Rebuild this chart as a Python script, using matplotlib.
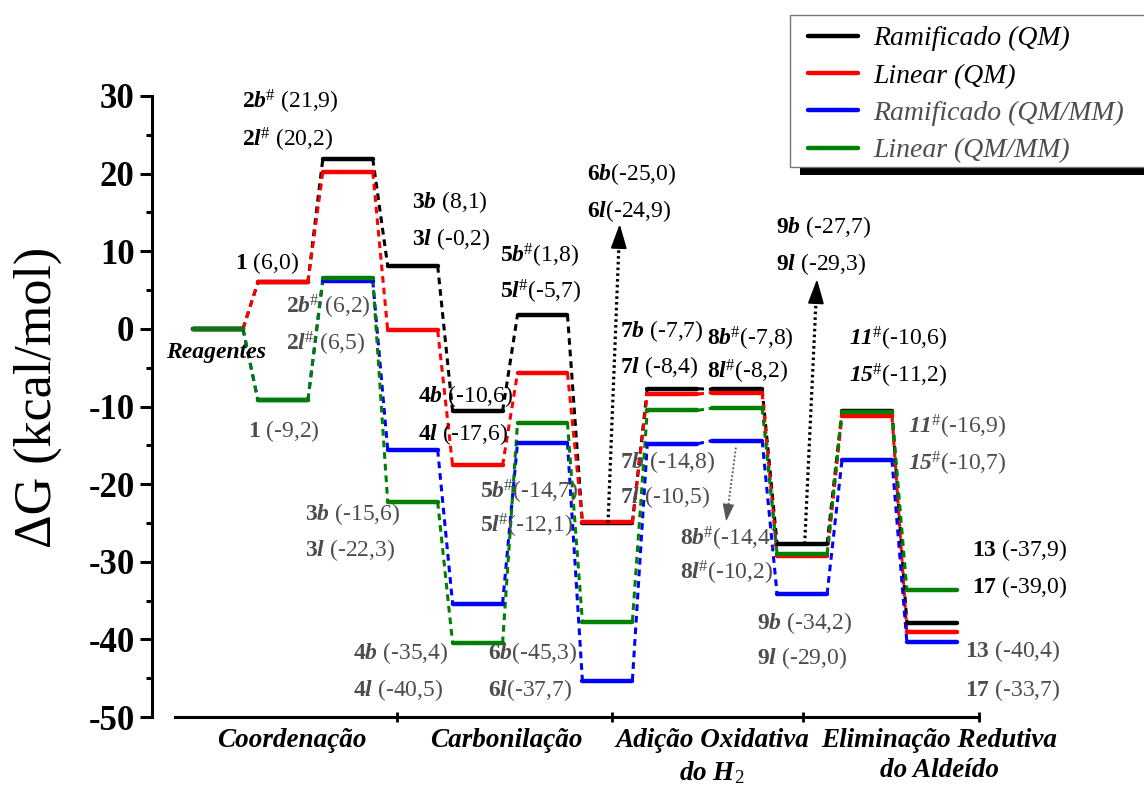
import numpy as np
import matplotlib
matplotlib.use('Agg')
import matplotlib.pyplot as plt
from matplotlib.lines import Line2D
from matplotlib.patches import Rectangle

plt.rcParams.update({
    'font.family': 'Liberation Serif',
    'mathtext.fontset': 'custom',
    'mathtext.rm': 'Liberation Serif',
    'mathtext.it': 'Liberation Serif:italic',
    'mathtext.bf': 'Liberation Serif:bold',
    'mathtext.bfit': 'Liberation Serif:bold:italic',
    'axes.unicode_minus': False,
})

# ---------------------------------------------------------------- data
stages = ['Reagentes', '1', '2', '3', '4', '5', '6', '7', '8', '9', '11/15', '13/17']
ram_qm = [0.0, 6.0, 21.9, 8.1, -10.6, 1.8, -25.0, -7.7, -7.8, -27.7, -10.6, -37.9]
lin_qm = [0.0, 6.0, 20.2, -0.2, -17.6, -5.7, -24.9, -8.4, -8.2, -29.3, -11.2, -39.0]
ram_qmmm = [0.0, -9.2, 6.2, -15.6, -35.4, -14.7, -45.3, -14.8, -14.4, -34.2, -16.9, -40.4]
lin_qmmm = [0.0, -9.2, 6.5, -22.3, -40.5, -12.1, -37.7, -10.5, -10.2, -29.0, -10.7, -33.7]
series_names = ['Ramificado (QM)', 'Linear (QM)', 'Ramificado (QM/MM)', 'Linear (QM/MM)']
phases = ['Coordenação', 'Carbonilação', 'Adição Oxidativa\ndo H$_2$',
          'Eliminação Redutiva\ndo Aldeído']

# species identifiers (branched / linear) for stages 1..11
ids_b = [r'\mathbf{1}', r'\mathbf{2}\mathbfit{b}^{\#}', r'\mathbf{3}\mathbfit{b}',
         r'\mathbf{4}\mathbfit{b}', r'\mathbf{5}\mathbfit{b}^{\#}', r'\mathbf{6}\mathbfit{b}',
         r'\mathbf{7}\mathbfit{b}', r'\mathbf{8}\mathbfit{b}^{\#}', r'\mathbf{9}\mathbfit{b}',
         r'\mathbfit{11}^{\#}', r'\mathbf{13}']
ids_l = [r'\mathbf{1}', r'\mathbf{2}\mathbfit{l}^{\#}', r'\mathbf{3}\mathbfit{l}',
         r'\mathbf{4}\mathbfit{l}', r'\mathbf{5}\mathbfit{l}^{\#}', r'\mathbf{6}\mathbfit{l}',
         r'\mathbf{7}\mathbfit{l}', r'\mathbf{8}\mathbfit{l}^{\#}', r'\mathbf{9}\mathbfit{l}',
         r'\mathbfit{15}^{\#}', r'\mathbf{17}']

# ---------------------------------------------------------------- style
colors = ['black', '#ff0000', '#0000ff', '#008000']
gray_txt = '#4d4d4d'
half_w = 0.385
level_lw = 3.2
conn_lw = 2.2

fig = plt.figure(figsize=(11.44, 7.98), dpi=100)
W, H = 1144, 798
ax = fig.add_axes([152 / W, (H - 717) / H, (979 - 152) / W, (717 - 96) / H])
ax.patch.set_visible(False)
ax.set_xlim(-1.017, 11.726)
ax.set_ylim(-50, 30)

x = np.arange(len(stages))
all_series = [ram_qm, lin_qm, ram_qmmm, lin_qmmm]
for vals, col in zip(all_series, colors):
    vals = np.asarray(vals)
    ax.hlines(vals, x - half_w, x + half_w, colors=col, lw=level_lw,
              zorder=3, capstyle='round')
    for i in range(len(x) - 1):
        ax.plot([x[i] + half_w, x[i + 1] - half_w], [vals[i], vals[i + 1]],
                color=col, lw=conn_lw, ls=(0, (2.2, 1.6)), zorder=2)


# ---------------------------------------------------------------- labels
def fmt(v):
    return '(' + f'{v:.1f}'.replace('.', ',') + ')'


# (x, y_first, y_second, separator) for stages 1..11
qm_pos = [(0.26, 8.5, None, ' '), (0.37, 29.2, 24.4, ' '), (2.99, 16.3, 11.6, ' '),
          (3.08, -8.7, -13.5, ' '), (4.35, 9.4, 4.8, ''), (5.69, 19.9, 15.2, ''),
          (6.19, -0.3, -4.9, ' '), (7.53, -1.3, -5.5, ''), (8.60, 13.1, 8.4, ' '),
          (9.72, -1.3, -6.0, ''), (11.62, -28.5, -33.2, ' ')]
mm_pos = [(0.46, -13.2, None, ' '), (1.05, 2.8, -1.9, ' '), (1.34, -23.8, -28.5, ' '),
          (2.08, -41.8, -46.5, ' '), (4.04, -21.0, -25.4, ''), (4.16, -41.8, -46.5, ''),
          (6.19, -17.1, -21.6, ' '), (7.12, -27.0, -31.5, ''), (8.30, -37.9, -42.4, ' '),
          (10.63, -12.6, -17.4, ''), (11.51, -41.5, -46.5, ' ')]

for group, pos, col in [((ram_qm, lin_qm), qm_pos, 'black'),
                        ((ram_qmmm, lin_qmmm), mm_pos, gray_txt)]:
    sb, sl = group
    for k, (xp, y1, y2, sep) in enumerate(pos):
        st = k + 1
        ax.text(xp, y1, '$' + ids_b[k] + '$' + sep + fmt(sb[st]), color=col,
                fontsize=17, ha='left', va='center', zorder=5)
        if y2 is not None:
            ax.text(xp, y2, '$' + ids_l[k] + '$' + sep + fmt(sl[st]), color=col,
                    fontsize=17, ha='left', va='center', zorder=5)

ax.text(-0.80, -3.0, stages[0], fontsize=17, fontweight='bold', fontstyle='italic',
        ha='left', va='center', zorder=5)


# ---------------------------------------------------------------- arrows
def dotted_arrow(start, tip, color, lw, dots, head_len, scale):
    """Dotted shaft with a solid filled arrowhead at the tip."""
    sx, sy = start
    tx, ty = tip
    f = 1 - head_len / abs(ty - sy)
    bx, by = sx + (tx - sx) * f, sy + (ty - sy) * f
    ax.plot([sx, bx], [sy, by], color=color, lw=lw, ls=(0, dots), zorder=4,
            dash_capstyle='butt')
    ax.annotate('', xy=(tx, ty), xytext=(bx, by),
                arrowprops=dict(arrowstyle='-|>,head_length=1.0,head_width=0.33',
                                lw=lw * 0.6, color=color, shrinkA=0, shrinkB=0,
                                mutation_scale=scale), zorder=4)


dotted_arrow((6.01, ram_qm[6]), (6.19, 13.5), 'black', 2.3, (0.8, 1.0), 2.0, 15)
dotted_arrow((9.04, ram_qm[9]), (9.23, 6.4), 'black', 2.3, (0.8, 1.0), 2.0, 15)
dotted_arrow((7.98, ram_qmmm[8] - 0.9), (7.83, -24.8), '#555555', 1.3, (1.0, 1.2),
             1.6, 11)

# ---------------------------------------------------------------- axes
for s in ['top', 'right']:
    ax.spines[s].set_visible(False)
ax.spines['left'].set_linewidth(2.2)
ax.spines['bottom'].set_linewidth(2.2)
ax.spines['left'].set_bounds(-50, 30)
ax.spines['bottom'].set_bounds(-0.663, 11.726)

ax.set_yticks(np.arange(-50, 31, 10))
ax.set_yticks(np.arange(-45, 30, 10), minor=True)
ax.tick_params(axis='y', which='major', direction='out', length=8.6, width=2.2,
               labelsize=25, pad=4)
ax.tick_params(axis='y', which='minor', direction='out', length=4.5, width=2.2)
for t in ax.get_yticklabels():
    t.set_fontweight('bold')

ax.set_xticks([2.758, 6.071, 9.014, 11.726])
ax.tick_params(axis='x', which='major', direction='inout', length=7, width=2.0,
               labelbottom=False)

ax.set_ylabel('ΔG (kcal/mol)', fontsize=37.5, va='center')
ax.yaxis.set_label_coords(-0.138, 0.515)

phase_x = [1.14, 4.45, 7.61, 11.12]
for px, name in zip(phase_x, phases):
    ax.text(px, -0.017, name, transform=ax.get_xaxis_transform(), ha='center', va='top',
            fontsize=19.5, fontweight='bold', fontstyle='italic', linespacing=1.3,
            multialignment='center')

# ---------------------------------------------------------------- legend
fig.patches.append(Rectangle((800 / W, (H - 175) / H), 370 / W, 152 / H,
                             transform=fig.transFigure, facecolor='black',
                             edgecolor='none', zorder=3))
fig.patches.append(Rectangle((790 / W, (H - 167) / H), 370 / W, 152 / H,
                             transform=fig.transFigure, facecolor='white',
                             edgecolor='#777777', lw=1.0, zorder=3.5))
handles = [Line2D([], [], color=c, lw=3.2, solid_capstyle='round') for c in colors]
leg = fig.legend(handles, series_names, loc='upper left',
                 bbox_to_anchor=(808 / W, 1 - 26 / H), frameon=False, borderpad=0,
                 borderaxespad=0, handlelength=1.8, handletextpad=0.55,
                 labelspacing=0.43, prop={'family': 'Liberation Serif', 'style': 'italic',
                                          'size': 20})
leg.set_zorder(5)
for t, c in zip(leg.get_texts(), ['black', 'black', gray_txt, gray_txt]):
    t.set_color(c)

fig.savefig('out.png', dpi=100)
